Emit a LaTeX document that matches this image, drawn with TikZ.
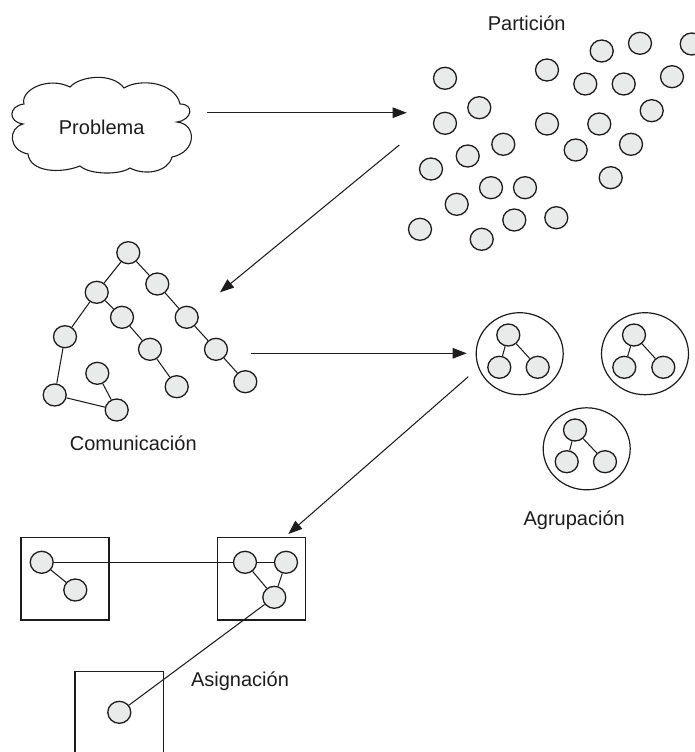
\documentclass[tikz,border=0pt]{standalone}
\usepackage{fontspec}
\setmainfont{Liberation Sans}
\usetikzlibrary{arrows.meta,shapes.geometric}

\definecolor{dotfill}{RGB}{233,234,234}
\definecolor{ink}{RGB}{30,27,28}

\begin{document}
\begin{tikzpicture}[x=1pt,y=-1pt,
  dot/.style={ellipse, draw=ink, line width=1.3pt, fill=dotfill,
    minimum width=23pt, minimum height=22pt, inner sep=0pt},
  cluster/.style={ellipse, draw=ink, line width=1.2pt,
    minimum width=87pt, minimum height=82pt, inner sep=0pt},
  link/.style={draw=ink, line width=1.05pt},
  flow/.style={draw=ink, line width=1.05pt, -{Triangle[length=14pt,width=10.5pt]}},
  frame/.style={draw=ink, line width=1.2pt},
  label/.style={font=\fontsize{20}{24}\selectfont, text=ink, anchor=base, inner sep=0pt},
]
\useasboundingbox (0,0) rectangle (694,752);

% ---------- Problema (cloud) ----------
\draw[frame, line width=1.1pt]
  (24,104) .. controls (20,90) and (48,76) .. (70,87)
  .. controls (80,76) and (112,72) .. (124,88)
  .. controls (140,78) and (175,82) .. (180,104)
  .. controls (195,104) and (192,120) .. (177,122)
  .. controls (197,124) and (197,152) .. (172,157)
  .. controls (168,172) and (145,176) .. (130,168)
  .. controls (120,175) and (90,175) .. (80,166)
  .. controls (60,174) and (30,172) .. (28,154)
  .. controls (8,150) and (8,128) .. (23,124)
  .. controls (8,122) and (8,106) .. (24,104) -- cycle;
\node[label] (problema) at (101.7,134) {Problema};

% ---------- Partición ----------
\node[label] (particion) at (526.7,30.7) {Partición};
\foreach \n/\x/\y in {
  1/445/78.3, 2/547/70, 3/601.7/51, 4/640/43.3, 5/691.7/44,
  6/479.3/107.7, 7/445/123.3, 8/547/124, 9/585.3/84, 10/623.7/84,
  11/672/76.7, 12/651.7/110.7, 13/599.3/124, 14/503.3/144.3, 15/467.7/156,
  16/431/169, 17/575.7/150, 18/631/144.3, 19/491/187.7, 20/525/187.7,
  21/610.7/177.7, 22/456.7/204.3, 23/514.3/220, 24/556.3/217.7,
  25/420/229.3, 26/481.7/239.3}
  \node[dot] (p\n) at (\x,\y) {};

% ---------- Comunicación (graph) ----------
\foreach \n/\x/\y in {
  1/128.3/252.7, 2/157.3/284, 3/96.7/292.3, 4/186.7/317.3, 5/122/317.3,
  6/65/336.7, 7/216/349.3, 8/150/349.3, 9/97.3/373.3, 10/245.3/381.7,
  11/176.7/386.7, 12/54.7/395, 13/116.7/410}
  \node[dot] (t\n) at (\x,\y) {};
\foreach \a/\b in {1/2, 1/3, 2/4, 4/7, 7/10, 3/5, 5/8, 8/11, 3/6, 6/12, 12/13, 9/13}
  \draw[link] (t\a) -- (t\b);
\node[label] (comunicacion) at (133.3,450.7) {Comunicación};

% ---------- Agrupación ----------
\node[cluster] (g1) at (519.7,353.7) {};
\node[cluster] (g2) at (645,353.7) {};
\node[cluster] (g3) at (586.7,448.8) {};
\node[dot] (g1a) at (508.3,335) {};
\node[dot] (g1b) at (499.3,367.3) {};
\node[dot] (g1c) at (537.7,367.3) {};
\node[dot] (g2a) at (634,335) {};
\node[dot] (g2b) at (624.3,367.3) {};
\node[dot] (g2c) at (663.3,367.3) {};
\node[dot] (g3a) at (575,430) {};
\node[dot] (g3b) at (566.7,461.7) {};
\node[dot] (g3c) at (605,461.7) {};
\foreach \g in {g1,g2,g3} {
  \draw[link] (\g a) -- (\g b);
  \draw[link] (\g a) -- (\g c);
}
\node[label] (agrupacion) at (574.2,525) {Agrupación};

% ---------- Asignación ----------
\draw[frame] (21,537.7) rectangle (109,620);
\draw[frame] (217.7,537.7) rectangle (305.7,620);
\draw[frame] (75,760) -- (75,671.7) -- (163.3,671.7) -- (163.3,760);
\node[dot] (s1a) at (41.7,562.3) {};
\node[dot] (s1b) at (75.3,590) {};
\node[dot] (s2a) at (245,562.3) {};
\node[dot] (s2b) at (286,562.3) {};
\node[dot] (s2c) at (274.3,597.3) {};
\node[dot] (s3a) at (119.3,712.3) {};
\draw[link] (s1a) -- (s1b);
\draw[link] (s1a) -- (s2a);
\draw[link] (s2a) -- (s2b);
\draw[link] (s2a) -- (s2c);
\draw[link] (s2b) -- (s2c);
\draw[link] (s2c) -- (s3a);
\node[label] (asignacion) at (240,686.7) {Asignación};

% ---------- flow between stages ----------
\coordinate (f1s) at (207.3,112.7);
\coordinate (f1e) at (406.7,112.7);
\coordinate (f2s) at (399.3,145);
\coordinate (f2e) at (220,292.3);
\coordinate (f3s) at (250.7,353.3);
\coordinate (f3e) at (466.7,353.3);
\coordinate (f4s) at (468.3,376.7);
\coordinate (f4e) at (288.3,534);
\draw[flow] (f1s) -- (f1e);
\draw[flow] (f2s) -- (f2e);
\draw[flow] (f3s) -- (f3e);
\draw[flow] (f4s) -- (f4e);
\end{tikzpicture}
\end{document}
